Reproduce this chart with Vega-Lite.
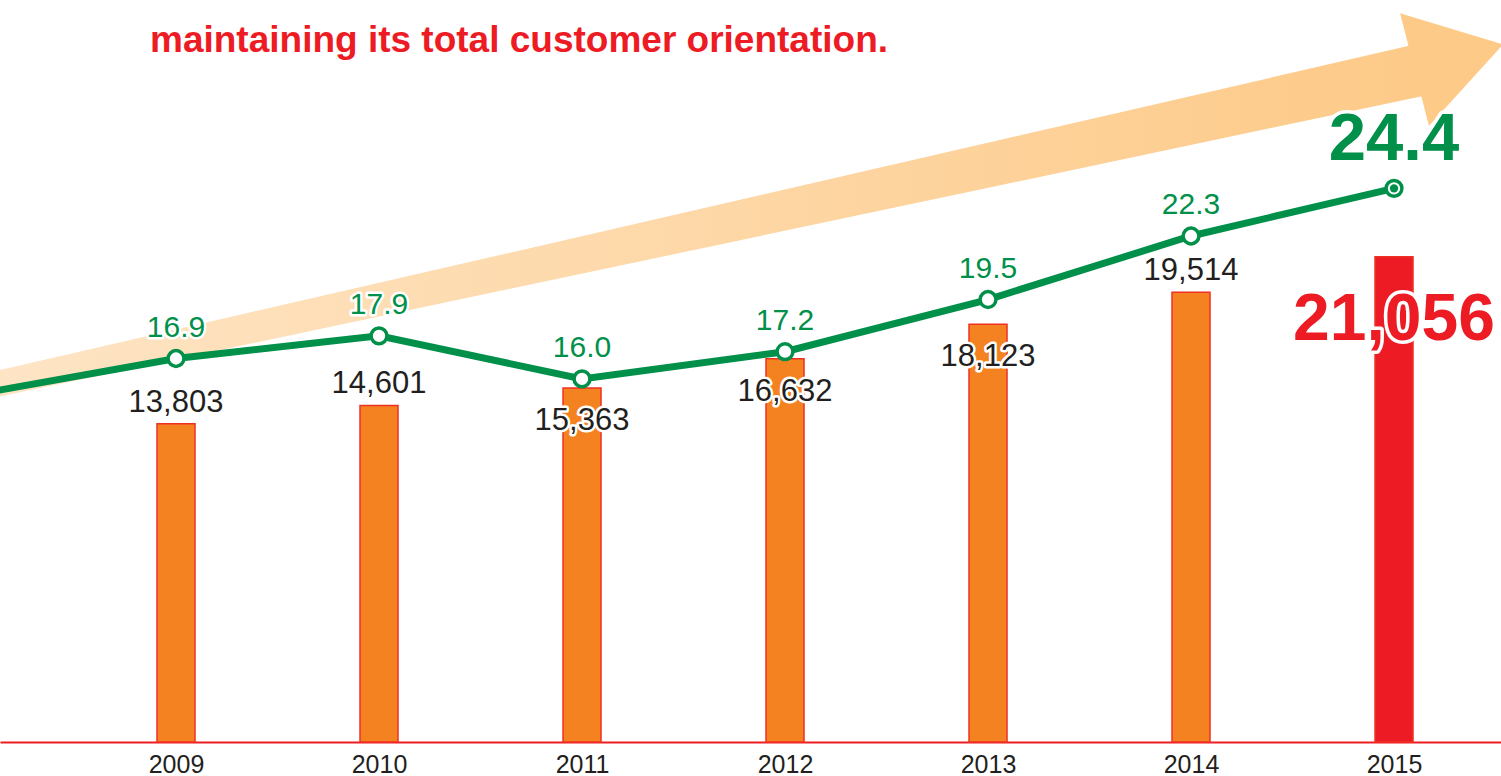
{
  "$schema": "https://vega.github.io/schema/vega-lite/v6.json",
  "width": 1501,
  "height": 742,
  "autosize": "none",
  "padding": {"left": 0, "top": 0, "right": 0, "bottom": 34},
  "background": "#ffffff",
  "config": {
    "view": {"stroke": null},
    "font": "Liberation Sans",
    "axisX": {
      "domainColor": "#ED1C24",
      "domainWidth": 2,
      "ticks": false,
      "grid": false,
      "labelFontSize": 25,
      "labelColor": "#231F20",
      "labelPadding": 10,
      "labelFont": "Liberation Sans"
    }
  },
  "title": {
    "text": "maintaining its total customer orientation.",
    "anchor": "start",
    "frame": "group",
    "orient": "top",
    "offset": 0,
    "dx": 150,
    "dy": 89,
    "baseline": "alphabetic",
    "fontSize": 37,
    "fontWeight": "bold",
    "color": "#ED1C24",
    "font": "Liberation Sans"
  },
  "datasets": {
    "main": [
      {"year": 2009, "sales": 13803, "ratio": 16.9},
      {"year": 2010, "sales": 14601, "ratio": 17.9},
      {"year": 2011, "sales": 15363, "ratio": 16.0},
      {"year": 2012, "sales": 16632, "ratio": 17.2},
      {"year": 2013, "sales": 18123, "ratio": 19.5},
      {"year": 2014, "sales": 19514, "ratio": 22.3},
      {"year": 2015, "sales": 21056, "ratio": 24.4}
    ],
    "line": [
      {"year": 2008, "ratio": 15.3},
      {"year": 2009, "ratio": 16.9},
      {"year": 2010, "ratio": 17.9},
      {"year": 2011, "ratio": 16.0},
      {"year": 2012, "ratio": 17.2},
      {"year": 2013, "ratio": 19.5},
      {"year": 2014, "ratio": 22.3},
      {"year": 2015, "ratio": 24.4}
    ],
    "arrow": [
      {"part": "shaft", "year": 2008.0, "top": 16.12, "bottom": 14.97},
      {"part": "shaft", "year": 2015.138, "top": 30.811, "bottom": 28.462},
      {"part": "head", "year": 2015.030, "top": 32.115, "bottom": 32.115},
      {"part": "head", "year": 2015.172, "top": 31.728, "bottom": 27.149},
      {"part": "head", "year": 2015.537, "top": 30.74, "bottom": 30.74}
    ]
  },
  "encoding": {
    "x": {
      "field": "year",
      "type": "quantitative",
      "scale": {"domain": [2008.133, 2015.527], "nice": false, "zero": false, "padding": 0},
      "axis": {
        "values": [2009, 2010, 2011, 2012, 2013, 2014, 2015],
        "format": "d",
        "title": null
      }
    }
  },
  "layer": [
    {
      "data": {"name": "arrow"},
      "transform": [{"filter": "datum.part == 'shaft'"}],
      "mark": {
        "type": "area",
        "clip": true,
        "fill": {
          "gradient": "linear",
          "x1": 0, "y1": 0, "x2": 1, "y2": 0,
          "stops": [
            {"offset": 0, "color": "#FEE5C6"},
            {"offset": 1, "color": "#FDCA88"}
          ]
        }
      },
      "encoding": {
        "y": {"field": "top", "type": "quantitative", "scale": {"domain": [0, 32.7], "nice": false}, "axis": null},
        "y2": {"field": "bottom"}
      }
    },
    {
      "data": {"name": "arrow"},
      "transform": [{"filter": "datum.part == 'head'"}],
      "mark": {"type": "area", "clip": true, "fill": "#FDCA88"},
      "encoding": {
        "y": {"field": "top", "type": "quantitative", "scale": {"domain": [0, 32.7], "nice": false}, "axis": null},
        "y2": {"field": "bottom"}
      }
    },
    {
      "data": {"name": "main"},
      "mark": {"type": "bar", "size": 38, "stroke": "#EE3124", "strokeWidth": 1.5},
      "encoding": {
        "y": {"field": "sales", "type": "quantitative", "scale": {"domain": [0, 32191], "nice": false}, "axis": null},
        "color": {
          "condition": {"test": "datum.year == 2015", "value": "#ED1C24"},
          "value": "#F58220"
        }
      }
    },
    {
      "data": {"name": "line"},
      "mark": {"type": "line", "clip": true, "color": "#00904A", "strokeWidth": 7},
      "encoding": {
        "y": {"field": "ratio", "type": "quantitative", "scale": {"domain": [0, 32.7], "nice": false}, "axis": null}
      }
    },
    {
      "data": {"name": "main"},
      "mark": {"type": "point", "shape": "circle", "filled": false, "fill": "#ffffff", "fillOpacity": 1, "stroke": "#00904A", "strokeWidth": 3.5, "size": 250, "opacity": 1},
      "encoding": {
        "y": {"field": "ratio", "type": "quantitative", "scale": {"domain": [0, 32.7], "nice": false}, "axis": null}
      }
    },
    {
      "data": {"name": "main"},
      "transform": [{"filter": "datum.year == 2015"}],
      "mark": {"type": "point", "shape": "circle", "filled": true, "color": "#00904A", "size": 70, "opacity": 1},
      "encoding": {
        "y": {"field": "ratio", "type": "quantitative", "scale": {"domain": [0, 32.7], "nice": false}, "axis": null}
      }
    },
    {
      "data": {"name": "main"},
      "transform": [{"filter": "datum.year < 2015"}],
      "encoding": {
        "y": {"field": "ratio", "type": "quantitative", "scale": {"domain": [0, 32.7], "nice": false}, "axis": null},
        "text": {"field": "ratio", "type": "quantitative", "format": ".1f"}
      },
      "layer": [
        {"mark": {"type": "text", "fontSize": 30, "baseline": "alphabetic", "dy": -22, "fill": "#ffffff", "stroke": "#ffffff", "strokeWidth": 5, "strokeJoin": "round"}},
        {"mark": {"type": "text", "fontSize": 30, "baseline": "alphabetic", "dy": -22, "fill": "#00904A"}}
      ]
    },
    {
      "data": {"name": "main"},
      "transform": [{"filter": "datum.year == 2015"}],
      "encoding": {
        "y": {"field": "ratio", "type": "quantitative", "scale": {"domain": [0, 32.7], "nice": false}, "axis": null},
        "text": {"field": "ratio", "type": "quantitative", "format": ".1f"}
      },
      "layer": [
        {"mark": {"type": "text", "fontSize": 67, "fontWeight": "bold", "baseline": "alphabetic", "dy": -28, "fill": "#ffffff", "stroke": "#ffffff", "strokeWidth": 7, "strokeJoin": "round"}},
        {"mark": {"type": "text", "fontSize": 67, "fontWeight": "bold", "baseline": "alphabetic", "dy": -28, "fill": "#00904A"}}
      ]
    },
    {
      "data": {"name": "main"},
      "transform": [{"filter": "datum.year == 2009 || datum.year == 2010 || datum.year == 2014"}],
      "encoding": {
        "y": {"field": "sales", "type": "quantitative", "scale": {"domain": [0, 32191], "nice": false}, "axis": null},
        "text": {"field": "sales", "type": "quantitative", "format": ","}
      },
      "layer": [
        {"mark": {"type": "text", "fontSize": 31, "baseline": "alphabetic", "dy": -12, "fill": "#231F20"}}
      ]
    },
    {
      "data": {"name": "main"},
      "transform": [{"filter": "datum.year == 2011 || datum.year == 2012 || datum.year == 2013"}],
      "encoding": {
        "y": {"field": "sales", "type": "quantitative", "scale": {"domain": [0, 32191], "nice": false}, "axis": null},
        "text": {"field": "sales", "type": "quantitative", "format": ","}
      },
      "layer": [
        {"mark": {"type": "text", "fontSize": 31, "baseline": "alphabetic", "dy": 42, "fill": "#ffffff", "stroke": "#ffffff", "strokeWidth": 5, "strokeJoin": "round"}},
        {"mark": {"type": "text", "fontSize": 31, "baseline": "alphabetic", "dy": 42, "fill": "#231F20"}}
      ]
    },
    {
      "data": {"name": "main"},
      "transform": [{"filter": "datum.year == 2015"}],
      "encoding": {
        "y": {"field": "sales", "type": "quantitative", "scale": {"domain": [0, 32191], "nice": false}, "axis": null},
        "text": {"field": "sales", "type": "quantitative", "format": ","}
      },
      "layer": [
        {"mark": {"type": "text", "fontSize": 66, "fontWeight": "bold", "baseline": "alphabetic", "dy": 83, "fill": "#ffffff", "stroke": "#ffffff", "strokeWidth": 7, "strokeJoin": "round"}},
        {"mark": {"type": "text", "fontSize": 66, "fontWeight": "bold", "baseline": "alphabetic", "dy": 83, "fill": "#ED1C24"}}
      ]
    }
  ],
  "resolve": {"scale": {"y": "independent"}}
}
